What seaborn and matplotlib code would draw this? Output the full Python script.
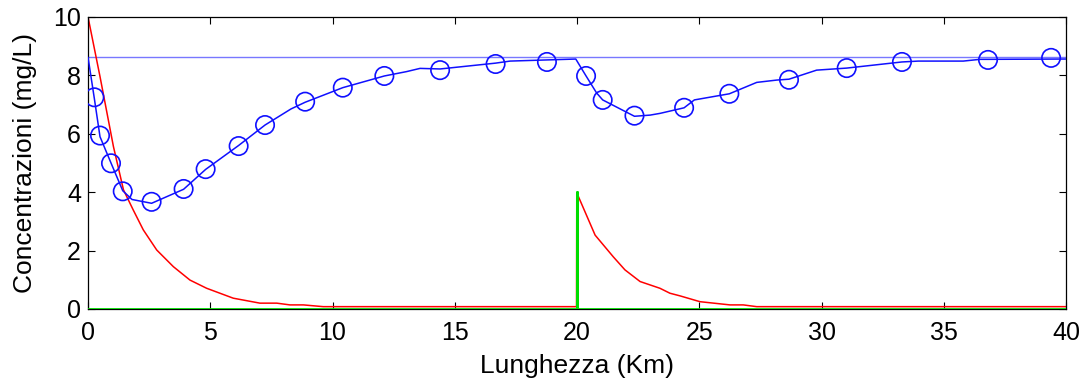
import matplotlib
matplotlib.use("Agg")
import matplotlib.pyplot as plt
import seaborn as sns
import pandas as pd

# Dissolved oxygen profile (solid line vertices)
do_x = [0.0, 0.26, 0.49, 0.94, 1.42, 1.8, 2.6, 3.91, 4.81, 6.16, 7.24, 8.3, 8.88,
        10.42, 12.12, 13.03, 13.58, 14.4, 16.67, 17.26, 19.95, 20.37, 20.8, 21.05,
        22.35, 22.99, 23.4, 24.38, 24.8, 26.23, 27.35, 28.17, 28.67, 29.8, 31.03,
        33.29, 33.96, 35.8, 36.48, 36.81, 40.0]
do_y = [8.62, 7.2, 5.9, 5.0, 4.05, 3.75, 3.62, 4.1, 4.78, 5.6, 6.3, 6.85, 7.08,
        7.58, 7.98, 8.13, 8.24, 8.22, 8.42, 8.49, 8.56, 7.98, 7.4, 7.16,
        6.6, 6.64, 6.7, 6.89, 7.16, 7.37, 7.76, 7.84, 7.87, 8.18, 8.25,
        8.46, 8.49, 8.49, 8.55, 8.55, 8.56]

# Dissolved oxygen at the solver steps (circle markers)
mark_x = [0.26, 0.49, 0.94, 1.42, 2.6, 3.91, 4.81, 6.16, 7.24, 8.88, 10.42, 12.12,
          14.4, 16.67, 18.77, 20.37, 21.05, 22.35, 24.38, 26.23, 28.67, 31.03,
          33.29, 36.81, 39.39]
mark_y = [7.25, 5.94, 4.99, 4.03, 3.67, 4.11, 4.79, 5.58, 6.3, 7.1, 7.58, 7.98,
          8.18, 8.39, 8.46, 7.98, 7.16, 6.62, 6.89, 7.37, 7.85, 8.25,
          8.46, 8.53, 8.6]

# BOD profile
bod_x = [0.0, 0.49, 1.04, 1.45, 1.85, 2.26, 2.81, 3.49, 4.17, 4.85, 5.94, 7.03,
         7.72, 8.26, 8.81, 9.62, 19.98, 19.99, 20.74, 21.48, 21.96, 22.58, 23.39,
         23.8, 24.21, 25.03, 26.26, 26.8, 27.35, 40.0]
bod_y = [10.0, 7.96, 5.56, 4.08, 3.39, 2.71, 2.02, 1.45, 0.99, 0.71, 0.37, 0.2,
         0.2, 0.14, 0.14, 0.08, 0.08, 3.98, 2.53, 1.79, 1.34, 0.94, 0.71,
         0.54, 0.45, 0.25, 0.14, 0.14, 0.08, 0.08]

# Load input at the discharge point
load_x = [0.0, 20.0, 20.0, 20.0, 40.0]
load_y = [0.0, 0.0, 4.0, 0.0, 0.0]

# Saturation concentration
do_sat = 8.62

x_ticks = [0, 5, 10, 15, 20, 25, 30, 35, 40]
y_ticks = [0, 2, 4, 6, 8, 10]

sns.set_theme(style="white")
plt.rcParams["font.family"] = ["Liberation Sans", "DejaVu Sans"]

fig = plt.figure(figsize=(10.84, 3.81), dpi=100)
ax = fig.add_axes([0.0812, 0.189, 0.9022, 0.7664])

ax.axhline(do_sat, color="#7878ff", lw=1.0, zorder=1)

df_bod = pd.DataFrame({"x": bod_x, "y": bod_y})
sns.lineplot(data=df_bod, x="x", y="y", sort=False, estimator=None,
             color="#ff0000", lw=1.1, ax=ax, zorder=2)

df_load = pd.DataFrame({"x": load_x, "y": load_y})
sns.lineplot(data=df_load, x="x", y="y", sort=False, estimator=None,
             color="#00dd00", lw=2.0, ax=ax, zorder=3)

df_do = pd.DataFrame({"x": do_x, "y": do_y})
sns.lineplot(data=df_do, x="x", y="y", sort=False, estimator=None,
             color="#1010ff", lw=1.1, ax=ax, zorder=4)

df_mark = pd.DataFrame({"x": mark_x, "y": mark_y})
sns.scatterplot(data=df_mark, x="x", y="y", marker="o", s=175,
                facecolors="none", edgecolor="#1010ff", linewidth=1.2,
                ax=ax, zorder=5)

ax.set_xlim(0, 40)
ax.set_ylim(0, 10)
ax.set_xticks(x_ticks)
ax.set_yticks(y_ticks)
ax.tick_params(direction="in", length=5, width=0.8, top=True, right=True,
               bottom=True, left=True, labelsize=18, colors="black",
               labelcolor="black")
ax.tick_params(axis="x", pad=9)
ax.tick_params(axis="y", pad=5)
for s in ax.spines.values():
    s.set_color("black")
    s.set_linewidth(0.9)
    s.set_visible(True)

ax.set_xlabel("Lunghezza (Km)", fontsize=19, labelpad=6, color="black")
ax.set_ylabel("Concentrazioni (mg/L)", fontsize=19, labelpad=12, color="black")

fig.savefig("out.png", dpi=100, facecolor="white")
